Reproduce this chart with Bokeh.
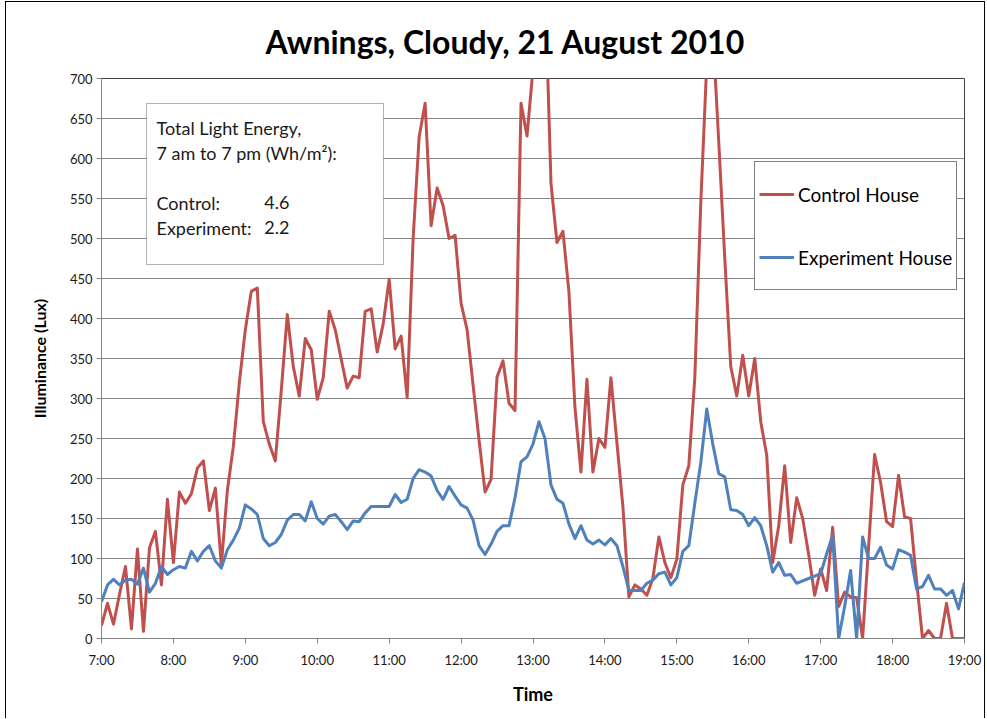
from bokeh.plotting import figure
from bokeh.models import (Range1d, FixedTicker, SingleIntervalTicker, Legend,
                          LegendItem, Label, BoxAnnotation)
from bokeh.embed import file_html
from bokeh.resources import INLINE

# ---------------- data (5-minute readings, 7:00 .. 19:00) ----------------
hour_ticks = [7, 8, 9, 10, 11, 12, 13, 14, 15, 16, 17, 18, 19]
hour_labels = ["7:00", "8:00", "9:00", "10:00", "11:00", "12:00", "13:00",
               "14:00", "15:00", "16:00", "17:00", "18:00", "19:00"]
start_hour = 7
step_minutes = 5

control = [
    16, 44, 18, 55, 90, 12, 112, 9, 113, 134, 67, 174,          # 7h
    95, 183, 169, 181, 213, 222, 160, 188, 92, 185, 240, 320,    # 8h
    386, 434, 438, 271, 243, 222, 310, 405, 340, 303, 375, 361,  # 9h
    299, 326, 409, 386, 349, 313, 328, 326, 409, 412, 358, 393,  # 10h
    449, 362, 378, 301, 500, 627, 669, 516, 563, 541, 500, 504,  # 11h
    419, 386, 317, 248, 183, 199, 327, 347, 294, 285, 669, 628,  # 12h
    712, 850, 820, 569, 495, 509, 433, 289, 208, 324, 208, 250,  # 13h
    239, 326, 245, 165, 52, 67, 62, 54, 75, 127, 95, 76,         # 14h
    99, 192, 216, 326, 545, 720, 760, 620, 475, 340, 303, 354,   # 15h
    303, 350, 271, 229, 95, 141, 216, 120, 176, 150, 105, 54,    # 16h
    87, 60, 139, 40, 58, 52, 51, 0, 115, 230, 195, 146,          # 17h
    140, 204, 152, 150, 72, 0, 10, 0, 0, 44, 0, 0,               # 18h
    0,                                                           # 19:00
]

experiment = [
    46, 67, 74, 67, 73, 74, 68, 88, 58, 69, 90, 80,              # 7h
    86, 90, 88, 109, 97, 109, 116, 97, 88, 111, 123, 138,        # 8h
    167, 162, 155, 125, 116, 120, 130, 148, 155, 155, 147, 171,  # 9h
    150, 143, 153, 155, 146, 136, 147, 146, 157, 165, 165, 165,  # 10h
    165, 180, 170, 174, 200, 211, 208, 203, 185, 174, 190, 178,  # 11h
    167, 163, 148, 116, 105, 118, 134, 141, 141, 176, 221, 227,  # 12h
    243, 271, 250, 192, 174, 169, 143, 125, 141, 123, 118, 123,  # 13h
    117, 125, 116, 90, 60, 60, 60, 69, 73, 81, 83, 67,           # 14h
    76, 109, 116, 169, 220, 287, 243, 206, 202, 161, 160, 155,   # 15h
    141, 151, 141, 116, 83, 95, 79, 80, 69, 72, 75, 78,          # 16h
    81, 106, 129, 0, 40, 85, 0, 127, 100, 100, 114, 92,          # 17h
    87, 111, 108, 104, 62, 65, 79, 62, 62, 54, 60, 37,           # 18h
    70,                                                          # 19:00
]

times = [start_hour + i * step_minutes / 60 for i in range(len(control))]

series_names = ["Control House", "Experiment House"]
series_colors = ["#C0504D", "#4F81BD"]

title_text = "Awnings, Cloudy, 21 August 2010"
x_title = "Time"
y_title = "Illuminance (Lux)"
box_lines = ["Total Light Energy,", "7 am to 7 pm (Wh/m\u00b2):"]
box_names = ["Control:", "Experiment:"]
box_values = ["4.6", "2.2"]

FONT = "Lato"

# ---------------- figure ----------------
p = figure(frame_width=863, frame_height=560,
           min_border_left=95, min_border_right=20,
           min_border_top=76, min_border_bottom=80,
           x_range=Range1d(7, 19), y_range=Range1d(0, 700),
           output_backend="svg", toolbar_location=None,
           title=title_text)
p.styles = {"margin": "1px 0px 0px 5px",
            "border-top": "1px solid #000000",
            "border-left": "1px solid #000000",
            "border-right": "1px solid #000000"}
p.background_fill_color = "white"
p.border_fill_color = "white"
p.outline_line_color = "#404040"
p.outline_line_width = 1

p.title.align = "left"
p.title.offset = 164
p.title.standoff = 35
p.title.text_font = FONT
p.title.text_font_style = "bold"
p.title.text_font_size = "32px"
p.title.text_color = "#000000"

# axes
p.xaxis.ticker = FixedTicker(ticks=hour_ticks)
p.xaxis.major_label_overrides = {h: lab for h, lab in zip(hour_ticks, hour_labels)}
p.yaxis.ticker = SingleIntervalTicker(interval=50)
for ax in (p.xaxis, p.yaxis):
    ax.axis_line_color = "#868686"
    ax.major_tick_line_color = "#868686"
    ax.major_tick_out = 5
    ax.major_tick_in = 0
    ax.minor_tick_line_color = None
    ax.major_label_text_font = FONT
    ax.major_label_text_font_size = "13px"
    ax.major_label_text_color = "#1a1a1a"
    ax.axis_label_text_font = FONT
    ax.axis_label_text_font_style = "bold"
    ax.axis_label_text_color = "#000000"
p.xaxis.axis_label = x_title
p.yaxis.axis_label = y_title
p.xaxis.axis_label_text_font_size = "18px"
p.yaxis.axis_label_text_font_size = "16px"
p.xaxis.major_label_standoff = 8
p.yaxis.major_label_standoff = 4
p.xaxis.axis_label_standoff = 12
p.yaxis.axis_label_standoff = 18

p.xgrid.visible = False
p.ygrid.grid_line_color = "#868686"
p.ygrid.grid_line_width = 1

# lines
r_ctrl = p.line(times, control, line_color=series_colors[0], line_width=3,
                line_join="round")
r_exp = p.line(times, experiment, line_color=series_colors[1], line_width=3,
               line_join="round")

legend = Legend(items=[LegendItem(label=series_names[0], renderers=[r_ctrl]),
                       LegendItem(label=series_names[1], renderers=[r_exp])],
                location=(653, 348))
legend.border_line_color = "#000000"
legend.border_line_width = 1
legend.background_fill_color = "white"
legend.background_fill_alpha = 1
legend.label_text_font = FONT
legend.label_text_font_size = "19px"
legend.label_text_color = "#000000"
legend.glyph_width = 35
legend.glyph_height = 56
legend.label_height = 56
legend.label_standoff = 4
legend.spacing = 7
legend.padding = 4
legend.margin = 0
p.add_layout(legend)

# text box (screen units relative to plot frame)
box = BoxAnnotation(left=45, right=282, top=535, bottom=374,
                    left_units="screen", right_units="screen",
                    top_units="screen", bottom_units="screen",
                    fill_color="white", fill_alpha=1,
                    line_color="#000000", line_width=1)
p.add_layout(box)

for txt, yy in zip(box_lines, [511, 486]):
    p.add_layout(Label(x=55, y=yy, x_units="screen", y_units="screen",
                       text=txt, text_font=FONT, text_font_size="18px",
                       text_color="#1a1a1a", text_baseline="alphabetic"))
for name, val, yy in zip(box_names, box_values, [436, 411]):
    p.add_layout(Label(x=55, y=yy, x_units="screen", y_units="screen",
                       text=name, text_font=FONT, text_font_size="18px",
                       text_color="#1a1a1a", text_baseline="alphabetic"))
    p.add_layout(Label(x=188, y=yy, x_units="screen", y_units="screen",
                       text=val, text_font=FONT, text_font_size="18px",
                       text_color="#1a1a1a", text_baseline="alphabetic",
                       text_align="right"))

open("out.html", "w").write(file_html(p, INLINE))
